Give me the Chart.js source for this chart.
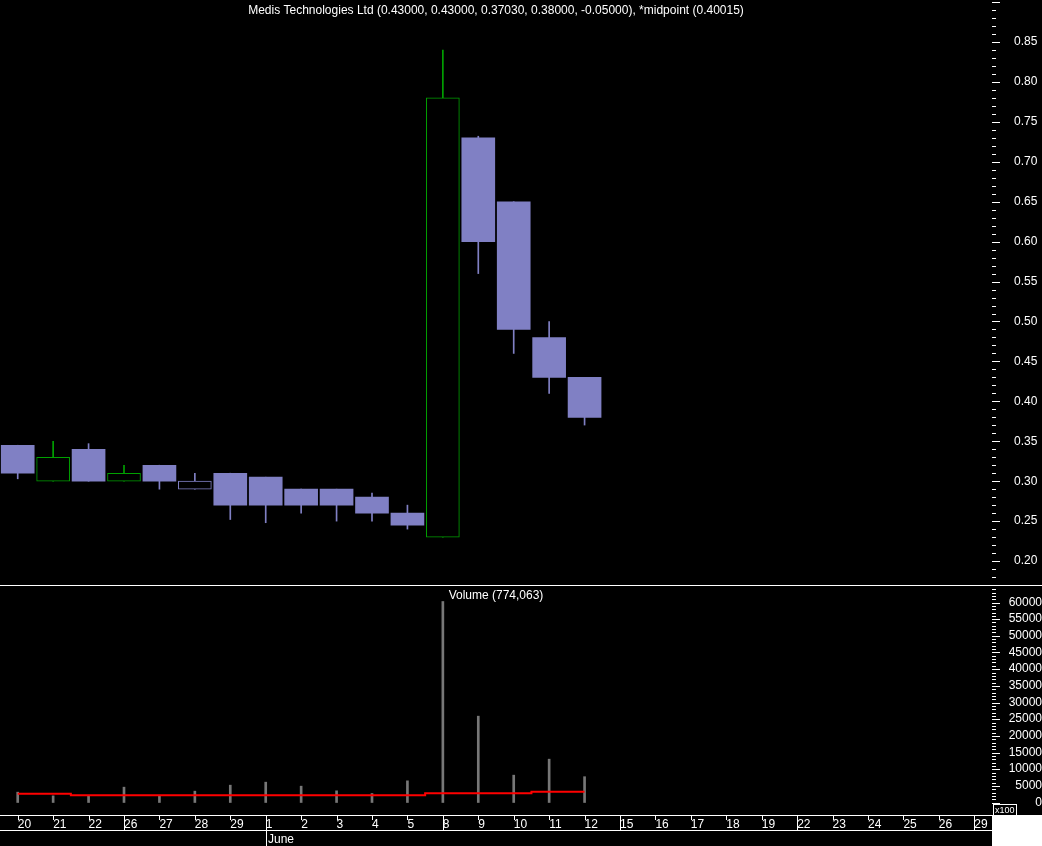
<!DOCTYPE html>
<html>
<head>
<meta charset="utf-8">
<script src="https://cdn.jsdelivr.net/npm/chart.js@4.4.1/dist/chart.umd.min.js"></script>
<style>
  html, body { margin: 0; padding: 0; background: #000; }
  body { width: 1042px; height: 846px; position: relative; overflow: hidden; }
  #priceChart { position: absolute; left: 0; top: 0; }
  #volChart { position: absolute; left: 0; top: 586px; }
  #sep { position: absolute; left: 0; top: 585px; width: 1042px; height: 1px; background: #fff; }
</style>
</head>
<body>
<canvas id="priceChart" width="1042" height="585"></canvas>
<div id="sep"></div>
<canvas id="volChart" width="1042" height="260"></canvas>
<script>
// trading days on the x axis (the last ones have no data yet)
const days = [
    '2009-05-20', '2009-05-21', '2009-05-22', '2009-05-26', '2009-05-27', '2009-05-28', '2009-05-29',
    '2009-06-01', '2009-06-02', '2009-06-03', '2009-06-04', '2009-06-05',
    '2009-06-08', '2009-06-09', '2009-06-10', '2009-06-11', '2009-06-12',
    '2009-06-15', '2009-06-16', '2009-06-17', '2009-06-18', '2009-06-19',
    '2009-06-22', '2009-06-23', '2009-06-24', '2009-06-25', '2009-06-26', '2009-06-29'
];
const openP  = [0.345, 0.30, 0.34, 0.30, 0.32, 0.29, 0.31, 0.305, 0.29, 0.29, 0.28, 0.26, 0.23, 0.73, 0.65, 0.48, 0.43];
const highP  = [0.345, 0.35, 0.347, 0.32, 0.32, 0.31, 0.31, 0.305, 0.29, 0.29, 0.285, 0.27, 0.84, 0.732, 0.65, 0.50, 0.43];
const lowP   = [0.303, 0.30, 0.30, 0.30, 0.29, 0.29, 0.252, 0.248, 0.26, 0.25, 0.25, 0.24, 0.23, 0.56, 0.46, 0.41, 0.3703];
const closeP = [0.31, 0.33, 0.30, 0.31, 0.30, 0.30, 0.27, 0.27, 0.27, 0.27, 0.26, 0.245, 0.78, 0.60, 0.49, 0.43, 0.38];
const volume = [310000, 200000, 190000, 460000, 190000, 340000, 520000, 610000, 490000, 350000, 270000, 650000,
                6030000, 2590000, 820000, 1300000, 774063];
const volAvg = [260000, 260000, 220000, 220000, 220000, 220000, 220000, 220000, 220000, 220000, 220000, 220000,
                280000, 280000, 280000, 320000, 320000];
const monthNames = ['January', 'February', 'March', 'April', 'May', 'June', 'July', 'August', 'September', 'October', 'November', 'December'];

const UP = '#00A000';
const DOWN = '#8080C4';
const FONT = "'Liberation Sans', Arial, sans-serif";

Chart.defaults.font.family = FONT;
Chart.defaults.font.size = 12;
Chart.defaults.color = '#fff';

const dates = days.map(d => new Date(d + 'T00:00:00Z'));
const dayLabels = dates.map(d => String(d.getUTCDate()));

// candle colour: green when close is above previous close, hollow when close > open
const isUp = i => i === 0 ? closeP[0] > openP[0] : closeP[i] > closeP[i - 1];
const isHollow = i => closeP[i] > openP[i];
const candleColor = i => isUp(i) ? UP : DOWN;

const last = closeP.length - 1;
const titleText = 'Medis Technologies Ltd (' +
    [openP[last], highP[last], lowP[last], closeP[last], closeP[last] - closeP[last - 1]].map(v => v.toFixed(5)).join(', ') +
    '), *midpoint (' + ((highP[last] + lowP[last]) / 2).toFixed(5) + ')';
const volTitle = 'Volume (' + volume[last].toLocaleString('en-US') + ')';

// short marks on the right axis, long on labelled values
function drawAxisMarks(chart, isMajor) {
    const { ctx, chartArea } = chart;
    const s = chart.scales.y;
    ctx.save();
    ctx.strokeStyle = '#fff';
    ctx.lineWidth = 1;
    ctx.beginPath();
    s.ticks.forEach(t => {
        const y = Math.round(s.getPixelForValue(t.value)) + 0.5;
        ctx.moveTo(chartArea.right, y);
        ctx.lineTo(chartArea.right + (isMajor(t.value) ? 8 : 4), y);
    });
    ctx.stroke();
    ctx.restore();
}

const priceDecor = {
    id: 'priceDecor',
    afterDraw(chart) {
        const { ctx, chartArea } = chart;
        drawAxisMarks(chart, v => Math.round(v * 100) % 5 === 0);
        ctx.save();
        ctx.fillStyle = '#fff';
        ctx.font = '12px ' + FONT;
        ctx.textAlign = 'center';
        ctx.textBaseline = 'middle';
        ctx.fillText(titleText, (chartArea.left + chartArea.right) / 2, 11);
        ctx.restore();
    }
};

const volDecor = {
    id: 'volDecor',
    afterDraw(chart) {
        const { ctx, chartArea, width, height } = chart;
        const xs = chart.scales.x;
        drawAxisMarks(chart, v => Math.round(v / 100000) % 5 === 0);
        ctx.save();
        ctx.fillStyle = '#fff';
        ctx.font = '12px ' + FONT;
        ctx.textAlign = 'center';
        ctx.textBaseline = 'middle';
        ctx.fillText(volTitle, (chartArea.left + chartArea.right) / 2, 10);

        // date strip
        const top = chartArea.bottom;
        const bottom = top + 16;
        ctx.strokeStyle = '#fff';
        ctx.lineWidth = 1;
        ctx.beginPath();
        ctx.moveTo(0, top + 0.5); ctx.lineTo(chartArea.right, top + 0.5);
        ctx.moveTo(0, bottom - 0.5); ctx.lineTo(chartArea.right, bottom - 0.5);
        dates.forEach((d, i) => {
            const x = Math.round(xs.getPixelForTick(i)) + 0.5;
            const newWeek = i > 0 && d.getUTCDay() <= dates[i - 1].getUTCDay();
            const newMonth = i > 0 && d.getUTCMonth() !== dates[i - 1].getUTCMonth();
            ctx.moveTo(x, top);
            ctx.lineTo(x, newWeek || newMonth ? bottom : top + 5);
            if (newMonth) {
                ctx.moveTo(x, bottom);
                ctx.lineTo(x, height);
            }
        });
        ctx.stroke();
        ctx.textAlign = 'left';
        ctx.textBaseline = 'alphabetic';
        dates.forEach((d, i) => {
            if (i > 0 && d.getUTCMonth() !== dates[i - 1].getUTCMonth()) {
                ctx.fillText(monthNames[d.getUTCMonth()], Math.round(xs.getPixelForTick(i)) + 2, height - 3);
            }
        });

        // corner block with the x100 unit box
        ctx.fillRect(chartArea.right, top, width - chartArea.right, height - top);
        ctx.strokeRect(chartArea.right + 1.5, top - 10.5, 23, 11);
        ctx.font = '9px ' + FONT;
        ctx.textBaseline = 'middle';
        ctx.fillText('x100', chartArea.right + 3, top - 4.5);
        ctx.restore();
    }
};

new Chart(document.getElementById('priceChart'), {
    type: 'bar',
    data: {
        labels: dayLabels,
        datasets: [{
            // wicks
            data: lowP.map((l, i) => [l, highP[i]]),
            backgroundColor: ctx => candleColor(ctx.dataIndex),
            barThickness: 1,
            borderWidth: 0,
            grouped: false,
            order: 2
        }, {
            // bodies
            data: openP.map((o, i) => [o, closeP[i]]),
            backgroundColor: ctx => isHollow(ctx.dataIndex) ? '#000' : candleColor(ctx.dataIndex),
            borderColor: ctx => candleColor(ctx.dataIndex),
            borderWidth: ctx => isHollow(ctx.dataIndex) ? 1 : 0,
            borderSkipped: false,
            barThickness: 33,
            grouped: false,
            order: 1
        }]
    },
    options: {
        responsive: false,
        animation: false,
        events: [],
        layout: { padding: 0, autoPadding: false },
        plugins: { legend: { display: false }, tooltip: { enabled: false } },
        scales: {
            x: { display: false, offset: true },
            y: {
                type: 'linear',
                position: 'right',
                min: 0.17,
                max: 0.9026,
                grid: { display: false, drawTicks: false },
                border: { display: false },
                afterBuildTicks: s => {
                    s.ticks = [];
                    for (let c = 17; c <= 90; c++) s.ticks.push({ value: c / 100 });
                },
                afterFit: s => { s.width = 50; s.paddingTop = 0; s.paddingBottom = 0; },
                ticks: {
                    autoSkip: false,
                    padding: 22,
                    color: '#fff',
                    callback: v => {
                        const c = Math.round(v * 100);
                        return c % 5 === 0 && c >= 20 && c <= 85 ? v.toFixed(2) : '';
                    }
                }
            }
        }
    },
    plugins: [priceDecor]
});

new Chart(document.getElementById('volChart'), {
    type: 'bar',
    data: {
        labels: dayLabels,
        datasets: [{
            type: 'line',
            data: volAvg,
            borderColor: '#FF0000',
            borderWidth: 2,
            pointRadius: 0,
            stepped: 'middle',
            order: 0
        }, {
            data: volume,
            backgroundColor: '#777',
            barThickness: 2,
            order: 1
        }]
    },
    options: {
        responsive: false,
        animation: false,
        events: [],
        layout: { padding: 0, autoPadding: false },
        plugins: { legend: { display: false }, tooltip: { enabled: false } },
        scales: {
            x: {
                offset: true,
                grid: { display: false, drawTicks: false },
                border: { display: false },
                afterFit: s => { s.height = 31; s.paddingLeft = 0; s.paddingRight = 0; },
                ticks: { autoSkip: false, maxRotation: 0, minRotation: 0, align: 'start', padding: 2, color: '#fff' }
            },
            y: {
                type: 'linear',
                position: 'right',
                min: -375000,
                max: 6495000,
                grid: { display: false, drawTicks: false },
                border: { display: false },
                afterBuildTicks: s => {
                    s.ticks = [];
                    for (let k = 0; k <= 64; k++) s.ticks.push({ value: k * 100000 });
                },
                afterFit: s => { s.width = 50; s.paddingTop = 0; s.paddingBottom = 0; },
                ticks: {
                    autoSkip: false,
                    padding: 12,
                    crossAlign: 'far',
                    color: '#fff',
                    callback: v => {
                        const k = Math.round(v / 100000);
                        return k % 5 === 0 && k <= 60 ? String(v / 100) : '';
                    }
                }
            }
        }
    },
    plugins: [volDecor]
});
</script>
</body>
</html>
